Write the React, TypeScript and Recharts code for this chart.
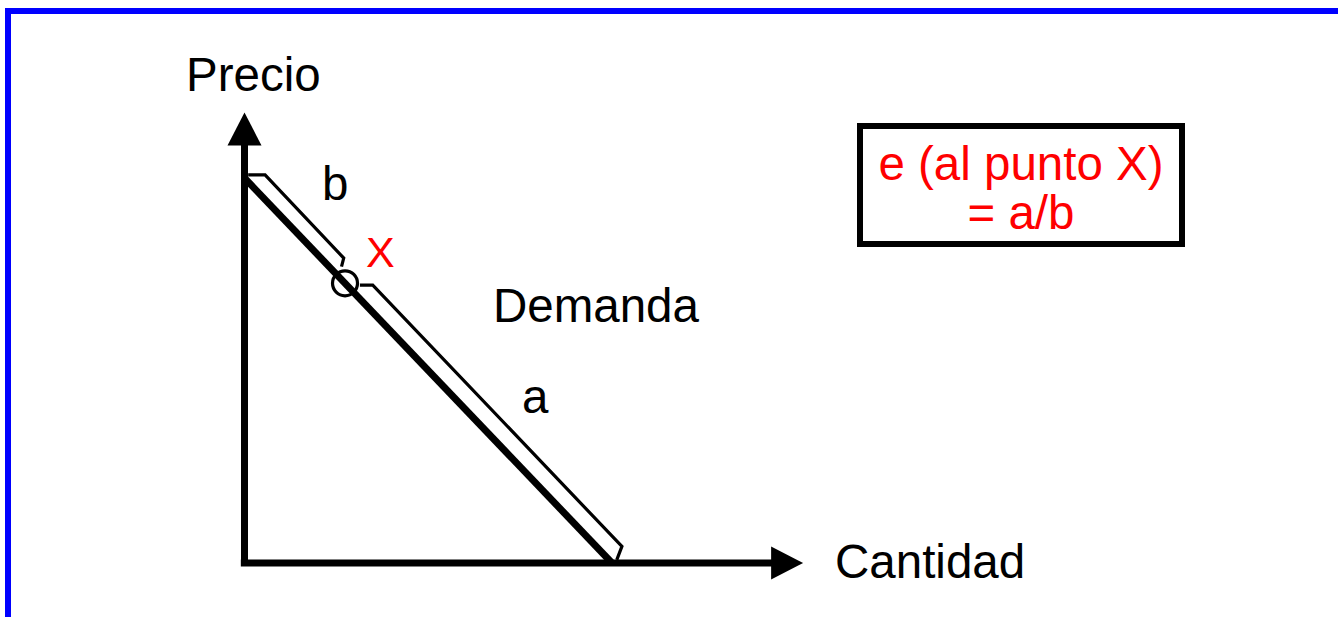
import React from 'react';
import { ComposedChart, Line, Scatter, XAxis, YAxis, ReferenceDot, Customized } from 'recharts';

// Demand curve (Cantidad q, Precio p)
const demandLine = [
  { q: 0, p: 10 },
  { q: 10, p: 0 },
];
// bracket measuring segment "b" (from the top of the curve to point X)
const bracketB = [
  { q: 0.1, p: 10.08 },
  { q: 0.56, p: 10.08 },
  { q: 2.7, p: 7.92 },
  { q: 2.64, p: 7.7 },
];
// bracket measuring segment "a" (from point X to the quantity axis)
const bracketA = [
  { q: 3.14, p: 7.22 },
  { q: 3.49, p: 7.22 },
  { q: 10.27, p: 0.43 },
  { q: 10.13, p: 0.08 },
];
// axes
const axisPrice = [
  { q: 0, p: -0.08 },
  { q: 0, p: 10.9 },
];
const axisQuantity = [
  { q: -0.1, p: 0 },
  { q: 14.4, p: 0 },
];
const arrowPriceTip = [{ q: 0, p: 11.7 }];
const arrowQuantityTip = [{ q: 15.2, p: 0 }];
// point X on the demand curve
const pointX = { q: 2.735, p: 7.265 };

const xDomain = [-1, 15.2];
const yDomain = [-1, 11.7];

const FONT = '"Liberation Sans", Arial, Helvetica, sans-serif';

const TriUp = (props: any) => {
  const { cx, cy } = props;
  return <polygon points={`${cx},${cy} ${cx - 17},${cy + 33} ${cx + 17},${cy + 33}`} fill="#000" />;
};
const TriRight = (props: any) => {
  const { cx, cy } = props;
  return <polygon points={`${cx},${cy} ${cx - 32},${cy - 16.5} ${cx - 32},${cy + 16.5}`} fill="#000" />;
};

const Annotations = () => (
  <g fontFamily={FONT}>
    <rect x={8} y={11} width={3000} height={3000} fill="none" stroke="#0000FF" strokeWidth={6} />
    <text x={186} y={91} fontSize={47.5} fill="#000">Precio</text>
    <text x={322} y={200} fontSize={47.5} fill="#000">b</text>
    <text x={366} y={267} fontSize={43} fill="#FF0000">X</text>
    <text x={493} y={322} fontSize={47.5} fill="#000">Demanda</text>
    <text x={522} y={413} fontSize={47.5} fill="#000">a</text>
    <text x={835} y={578} fontSize={47.5} fill="#000">Cantidad</text>
    <rect x={860} y={126} width={322} height={118} fill="#fff" stroke="#000" strokeWidth={6} />
    <text x={1021} y={180} fontSize={47.5} fill="#FF0000" textAnchor="middle">e (al punto X)</text>
    <text x={1021} y={229} fontSize={47.5} fill="#FF0000" textAnchor="middle">= a/b</text>
  </g>
);

export default function App() {
  return (
    <div style={{ position: 'absolute', left: 0, top: 0, width: 1338, height: 617, background: '#fff' }}>
      <ComposedChart
        width={1338}
        height={617}
        margin={{ left: 207.75, right: 534.9, top: 112.55, bottom: 15.5 }}
      >
        <XAxis type="number" dataKey="q" domain={xDomain} hide />
        <YAxis type="number" dataKey="p" domain={yDomain} hide width={0} />
        <Customized component={Annotations} />
        <Line data={axisPrice} dataKey="p" type="linear" stroke="#000" strokeWidth={7} dot={false} activeDot={false} isAnimationActive={false} />
        <Line data={axisQuantity} dataKey="p" type="linear" stroke="#000" strokeWidth={7} dot={false} activeDot={false} isAnimationActive={false} />
        <Scatter data={arrowPriceTip} dataKey="p" shape={TriUp} isAnimationActive={false} />
        <Scatter data={arrowQuantityTip} dataKey="p" shape={TriRight} isAnimationActive={false} />
        <Line data={bracketB} dataKey="p" type="linear" stroke="#000" strokeWidth={3.2} dot={false} activeDot={false} isAnimationActive={false} />
        <Line data={bracketA} dataKey="p" type="linear" stroke="#000" strokeWidth={3.2} dot={false} activeDot={false} isAnimationActive={false} />
        <Line data={demandLine} dataKey="p" type="linear" stroke="#000" strokeWidth={7} dot={false} activeDot={false} isAnimationActive={false} />
        <ReferenceDot x={pointX.q} y={pointX.p} r={12.5} fill="none" stroke="#000" strokeWidth={3.2} />
      </ComposedChart>
    </div>
  );
}
